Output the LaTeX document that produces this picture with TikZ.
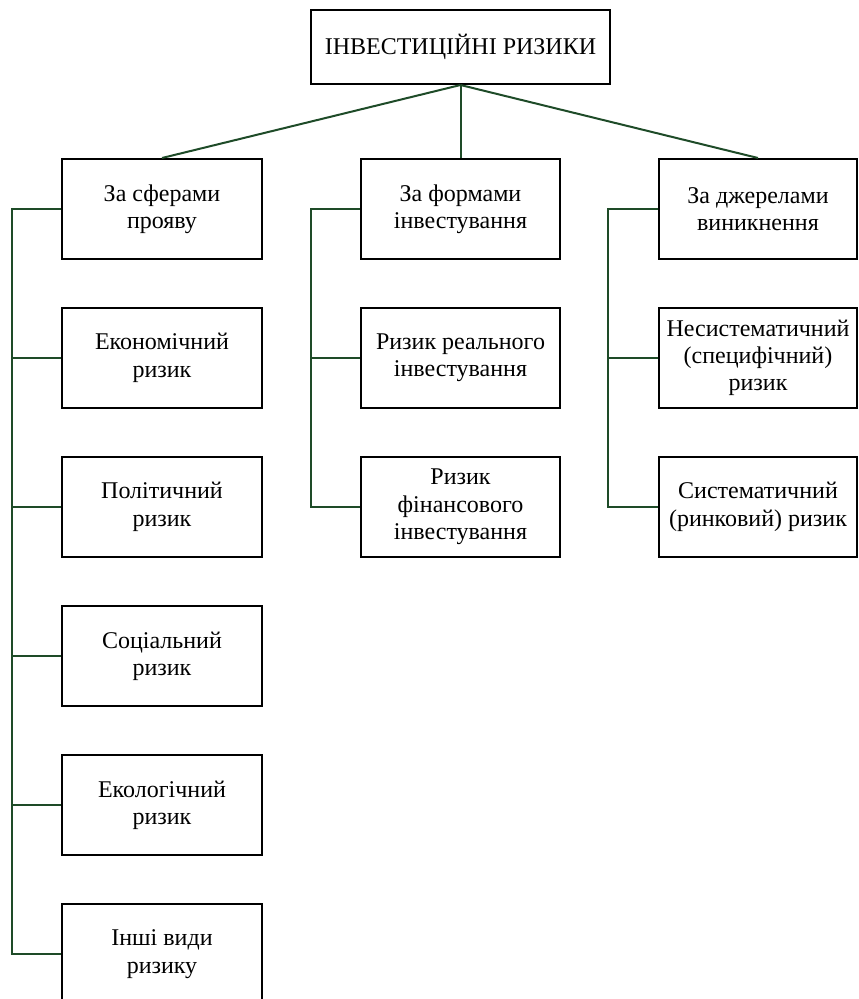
\documentclass[tikz,border=0pt]{standalone}
\usepackage{fontspec}
\setmainfont{Liberation Serif}
\definecolor{lineGreen}{RGB}{30,75,40}
\begin{document}
\begin{tikzpicture}[x=0.75pt,y=-0.75pt,
  box/.style={draw=black,line width=1.5pt,fill=white,align=center,inner sep=2pt,
    minimum width=150pt,minimum height=75pt,
    font=\fontsize{18pt}{20.5pt}\selectfont,
    execute at begin node={\rule{0pt}{18.5pt}}},
  topbox/.style={draw=black,line width=1.5pt,fill=white,align=center,inner sep=2pt,
    minimum width=224pt,minimum height=55.5pt,
    font=\fontsize{18pt}{20.5pt}\selectfont},
  conn/.style={draw=lineGreen,line width=1.5pt}]
\clip (0,0) rectangle (859,999);
\useasboundingbox (0,0) rectangle (859,999);
% top
\node[topbox] (top) at (460.5,47) {ІНВЕСТИЦІЙНІ РИЗИКИ};
% level 2
\node[box] (A) at (162,209) {За сферами\\прояву};
\node[box,minimum width=149pt] (B) at (460.5,209) {За формами\\інвестування};
\node[box,minimum width=148.5pt] (C) at (758,209) {За джерелами\\виникнення};
% left column
\node[box] (A1) at (162,358) {Економічний\\ризик};
\node[box] (A2) at (162,507) {Політичний\\ризик};
\node[box] (A3) at (162,656) {Соціальний\\ризик};
\node[box] (A4) at (162,805) {Екологічний\\ризик};
\node[box] (A5) at (162,954) {Інші види\\ризику};
% middle column
\node[box,minimum width=149pt] (B1) at (460.5,358) {Ризик реального\\інвестування};
\node[box,minimum width=149pt] (B2) at (460.5,507) {Ризик\\фінансового\\інвестування};
% right column
\node[box,minimum width=148.5pt] (C1) at (758,358) {Несистематичний\\(специфічний)\\ризик};
\node[box,minimum width=148.5pt] (C2) at (758,507) {Систематичний\\(ринковий) ризик};
% top connectors
\draw[conn] (top.south) -- (A.north);
\draw[conn] (top.south) -- (B.north);
\draw[conn] (top.south) -- (C.north);
% left trunk
\draw[conn] (A.west) -- ++(-49,0) |- (A5.west);
\foreach \n in {A1,A2,A3,A4} \draw[conn] (\n.west) -- ++(-49,0);
% middle trunk
\draw[conn] (B.west) -- ++(-49,0) |- (B2.west);
\draw[conn] (B1.west) -- ++(-49,0);
% right trunk
\draw[conn] (C.west) -- ++(-50,0) |- (C2.west);
\draw[conn] (C1.west) -- ++(-50,0);
\end{tikzpicture}
\end{document}
